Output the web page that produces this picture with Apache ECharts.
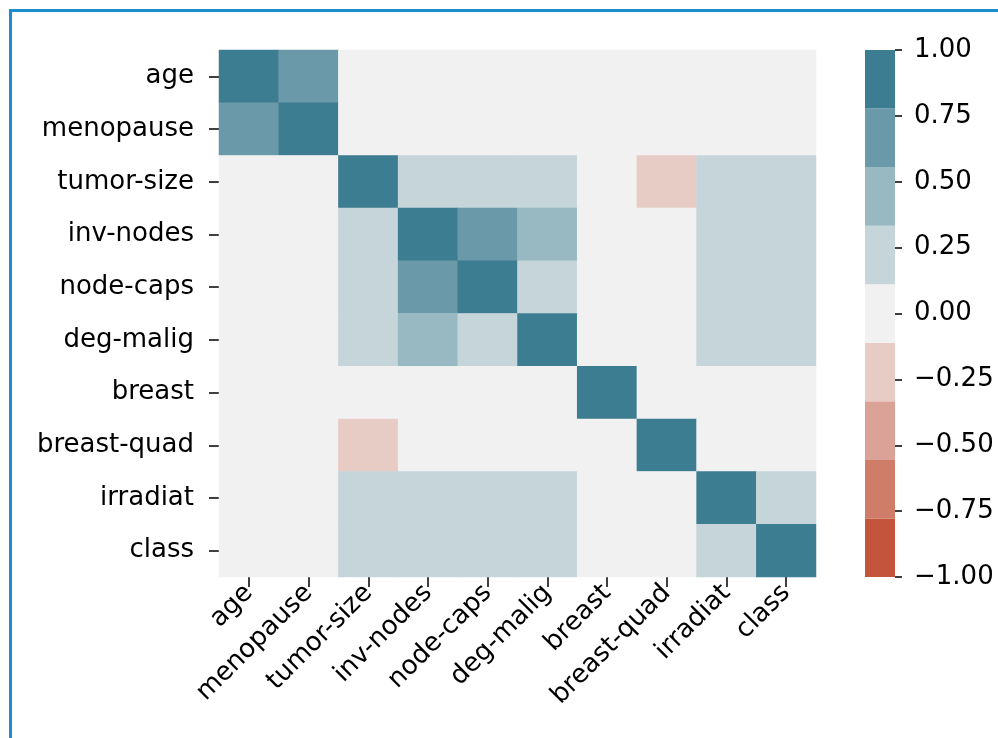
<!DOCTYPE html>
<html>
<head>
<meta charset="utf-8">
<title>Feature correlation heatmap</title>
<script src="https://cdn.jsdelivr.net/npm/echarts@6/dist/echarts.min.js"></script>
<style>
  html, body { margin: 0; padding: 0; background: #ffffff; }
  #chart { width: 998px; height: 738px; }
</style>
</head>
<body>
<div id="chart"></div>
<script>
// Feature names (rows top-to-bottom, columns left-to-right)
const features = ['age', 'menopause', 'tumor-size', 'inv-nodes', 'node-caps',
                  'deg-malig', 'breast', 'breast-quad', 'irradiat', 'class'];

// Correlation rows, one per feature
const rowAge        = [1.00, 0.64, 0.01, -0.05, -0.03, -0.04, -0.02, 0.03, -0.06, -0.07];
const rowMenopause  = [0.64, 1.00, 0.04, 0.02, 0.05, 0.06, 0.02, -0.01, 0.03, 0.01];
const rowTumorSize  = [0.01, 0.04, 1.00, 0.17, 0.15, 0.16, 0.03, -0.14, 0.14, 0.18];
const rowInvNodes   = [-0.05, 0.02, 0.17, 1.00, 0.62, 0.42, 0.02, 0.04, 0.23, 0.29];
const rowNodeCaps   = [-0.03, 0.05, 0.15, 0.62, 1.00, 0.26, 0.06, 0.02, 0.20, 0.27];
const rowDegMalig   = [-0.04, 0.06, 0.16, 0.42, 0.26, 1.00, 0.05, 0.01, 0.21, 0.30];
const rowBreast     = [-0.02, 0.02, 0.03, 0.02, 0.06, 0.05, 1.00, 0.05, 0.02, -0.06];
const rowBreastQuad = [0.03, -0.01, -0.14, 0.04, 0.02, 0.01, 0.05, 1.00, 0.02, 0.04];
const rowIrradiat   = [-0.06, 0.03, 0.14, 0.23, 0.20, 0.21, 0.02, 0.02, 1.00, 0.19];
const rowClass      = [-0.07, 0.01, 0.18, 0.29, 0.27, 0.30, -0.06, 0.04, 0.19, 1.00];

const corrRows = [rowAge, rowMenopause, rowTumorSize, rowInvNodes, rowNodeCaps,
                  rowDegMalig, rowBreast, rowBreastQuad, rowIrradiat, rowClass];

// Nine-step diverging palette, ordered from lowest bin (-1) to highest (+1)
const binColors = ['#c4543c', '#cf7c69', '#dba397', '#e7cbc5', '#f0f1f0',
                   '#c5d5da', '#98b8c2', '#6a9aa9', '#3d7d91'];
const colorMin = -1, colorMax = 1;

// Bin edges for the palette
const binCount = binColors.length;
const binEdges = [];
for (let k = 0; k <= binCount; k++) binEdges.push(colorMin + (colorMax - colorMin) * k / binCount);

// Heatmap cells: [column, row, value]
const cells = [];
corrRows.forEach((row, r) => row.forEach((v, c) => cells.push([c, r, v])));

// Colour pieces for the visual map
const pieces = binColors.map((col, k) => ({ gte: binEdges[k], lt: binEdges[k + 1] + (k === binCount - 1 ? 1e-9 : 0), color: col }));

// Colour bar segments: [x0, lo, x1, hi, colourIndex]
const barSegments = binColors.map((col, k) => [0, binEdges[k], 1, binEdges[k + 1], k]);

const FONT = 'DejaVu Sans';
const TEXT = '#000000';
const fmtTick = v => (v < 0 ? '\u2212' : '') + Math.abs(v).toFixed(2);

const chart = echarts.init(document.getElementById('chart'), null, { renderer: 'canvas' });
chart.setOption({
  animation: false,
  backgroundColor: '#ffffff',
  textStyle: { fontFamily: FONT },
  graphic: [{
    type: 'rect',
    shape: { x: 10.5, y: 10.5, width: 1200, height: 1000 },
    style: { fill: 'none', stroke: '#1b8dcc', lineWidth: 3 },
    silent: true
  }],
  grid: [
    { left: 219, top: 50, width: 597, height: 527 },
    { left: 865, top: 50, width: 30, height: 527 }
  ],
  xAxis: [
    {
      type: 'category', gridIndex: 0, data: features, position: 'bottom',
      axisLine: { show: false, onZero: false },
      axisTick: { show: true, alignWithLabel: true, length: 10, lineStyle: { color: TEXT, width: 1.5 } },
      axisLabel: { rotate: 45, margin: 12, fontSize: 26, color: TEXT, fontFamily: FONT, interval: 0 },
      splitLine: { show: false }
    },
    { type: 'value', gridIndex: 1, min: 0, max: 1, show: false }
  ],
  yAxis: [
    {
      type: 'category', gridIndex: 0, data: features, inverse: true,
      axisLine: { show: false, onZero: false },
      axisTick: { show: true, alignWithLabel: true, length: 10, lineStyle: { color: TEXT, width: 1.5 } },
      axisLabel: { margin: 25, fontSize: 26, color: TEXT, fontFamily: FONT, interval: 0 },
      splitLine: { show: false }
    },
    {
      type: 'value', gridIndex: 1, min: colorMin, max: colorMax, interval: 0.25, position: 'right',
      axisLine: { show: false, onZero: false },
      axisTick: { show: true, length: 7, lineStyle: { color: TEXT, width: 1.5 } },
      axisLabel: { margin: 19, fontSize: 26, color: TEXT, fontFamily: FONT, formatter: fmtTick },
      splitLine: { show: false }
    }
  ],
  visualMap: {
    type: 'piecewise', show: false, seriesIndex: 0, dimension: 2, pieces: pieces
  },
  series: [
    {
      type: 'heatmap', xAxisIndex: 0, yAxisIndex: 0, data: cells,
      itemStyle: { borderWidth: 0 },
      emphasis: { disabled: true }
    },
    {
      type: 'custom', xAxisIndex: 1, yAxisIndex: 1, data: barSegments,
      encode: { x: [0, 2], y: [1, 3] },
      renderItem: function (params, api) {
        const a = api.coord([api.value(0), api.value(1)]);
        const b = api.coord([api.value(2), api.value(3)]);
        return {
          type: 'rect',
          shape: { x: a[0], y: b[1], width: b[0] - a[0], height: a[1] - b[1] },
          style: { fill: binColors[api.value(4)] }
        };
      }
    }
  ]
});
</script>
</body>
</html>
